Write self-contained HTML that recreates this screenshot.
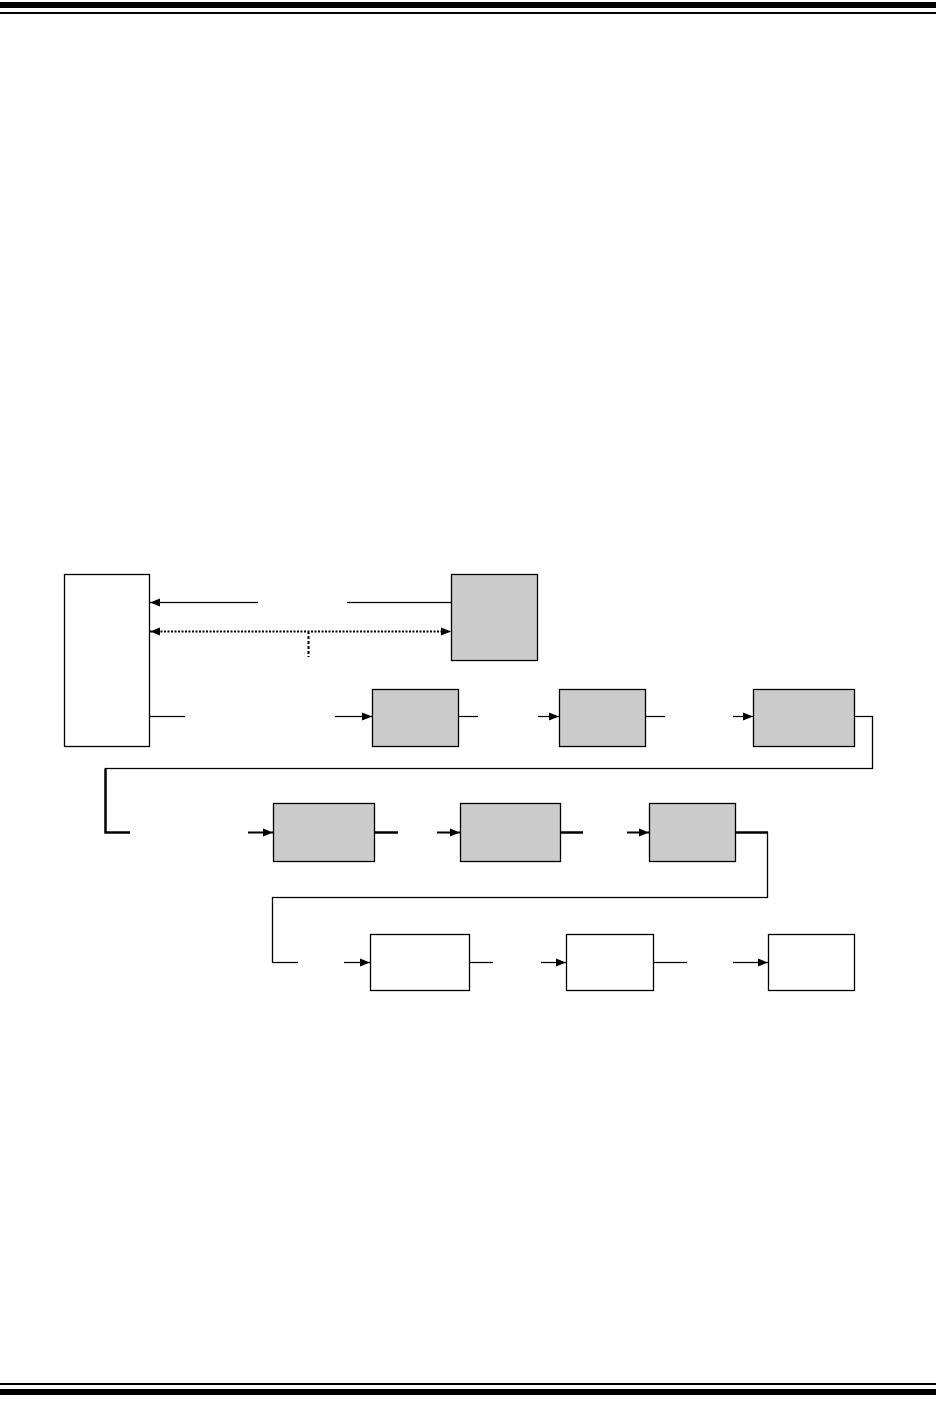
<!DOCTYPE html>
<html><head><meta charset="utf-8"><style>html,body{margin:0;padding:0;background:#fff}svg{display:block}</style></head>
<body>
<svg width="936" height="1411" viewBox="0 0 936 1411" xmlns="http://www.w3.org/2000/svg">
<defs>
<marker id="a" markerWidth="10" markerHeight="8" refX="10" refY="4" orient="auto" markerUnits="userSpaceOnUse"><path d="M0,0 L10,4 L0,8 z" fill="#000"/></marker>
<marker id="s" markerWidth="10" markerHeight="8" refX="0" refY="4" orient="auto" markerUnits="userSpaceOnUse"><path d="M10,0 L0,4 L10,8 z" fill="#000"/></marker>
</defs>
<rect x="0" y="2" width="936" height="6" fill="#000"/>
<rect x="0" y="12" width="936" height="2" fill="#000"/>
<rect x="0" y="1383" width="936" height="2" fill="#000"/>
<rect x="0" y="1389" width="936" height="6" fill="#000"/>
<g stroke="#000" stroke-width="1.3" fill="none">
<rect x="64.5" y="574.5" width="85" height="172" fill="#fff"/>
<rect x="451.5" y="574.5" width="86" height="86" fill="#ccc"/>
<rect x="372.5" y="689.5" width="86" height="57" fill="#ccc"/>
<rect x="559.5" y="689.5" width="86" height="57" fill="#ccc"/>
<rect x="753.5" y="689.5" width="101" height="57" fill="#ccc"/>
<rect x="273.5" y="803.5" width="101" height="58" fill="#ccc"/>
<rect x="460.5" y="803.5" width="100" height="58" fill="#ccc"/>
<rect x="649.5" y="803.5" width="86" height="58" fill="#ccc"/>
<rect x="370.5" y="934.5" width="99" height="56" fill="#fff"/>
<rect x="566.5" y="934.5" width="87" height="56" fill="#fff"/>
<rect x="768.5" y="934.5" width="86" height="56" fill="#fff"/>
<line x1="258" y1="602.5" x2="150" y2="602.5" marker-end="url(#a)"/>
<line x1="347" y1="602.5" x2="451" y2="602.5"/>
<line x1="150" y1="631.5" x2="451" y2="631.5" stroke-dasharray="2,1.5" stroke-width="2" marker-start="url(#s)" marker-end="url(#a)"/>
<line x1="308.5" y1="631" x2="308.5" y2="657" stroke-dasharray="3,2" stroke-width="2"/>
<line x1="149" y1="716.5" x2="185" y2="716.5"/>
<line x1="335" y1="716.5" x2="372" y2="716.5" marker-end="url(#a)"/>
<line x1="458" y1="716.5" x2="478" y2="716.5"/>
<line x1="538" y1="716.5" x2="559" y2="716.5" marker-end="url(#a)"/>
<line x1="645" y1="716.5" x2="665" y2="716.5"/>
<line x1="733" y1="716.5" x2="753" y2="716.5" marker-end="url(#a)"/>
<polyline points="854,716.5 872.5,716.5 872.5,768.5 105.5,768.5 105.5,832.5 130,832.5"/>
<polyline points="105.5,768.5 105.5,832.5 130,832.5" stroke-width="2.5"/>
<line x1="248" y1="832.5" x2="273" y2="832.5" stroke-width="2" marker-end="url(#a)"/>
<line x1="374" y1="832.5" x2="398" y2="832.5" stroke-width="2.5"/>
<line x1="437" y1="832.5" x2="460" y2="832.5" stroke-width="2" marker-end="url(#a)"/>
<line x1="560" y1="832.5" x2="583" y2="832.5" stroke-width="2.5"/>
<line x1="627" y1="832.5" x2="649" y2="832.5" stroke-width="2" marker-end="url(#a)"/>
<line x1="735" y1="832.5" x2="768" y2="832.5" stroke-width="2.5"/>
<polyline points="767.5,832.5 767.5,897.5 272.5,897.5 272.5,962.5 298,962.5"/>
<line x1="344" y1="962.5" x2="370" y2="962.5" marker-end="url(#a)"/>
<line x1="469" y1="962.5" x2="493" y2="962.5"/>
<line x1="541" y1="962.5" x2="566" y2="962.5" marker-end="url(#a)"/>
<line x1="653" y1="962.5" x2="687" y2="962.5"/>
<line x1="733" y1="962.5" x2="768" y2="962.5" marker-end="url(#a)"/>
</g>
</svg>
</body></html>
